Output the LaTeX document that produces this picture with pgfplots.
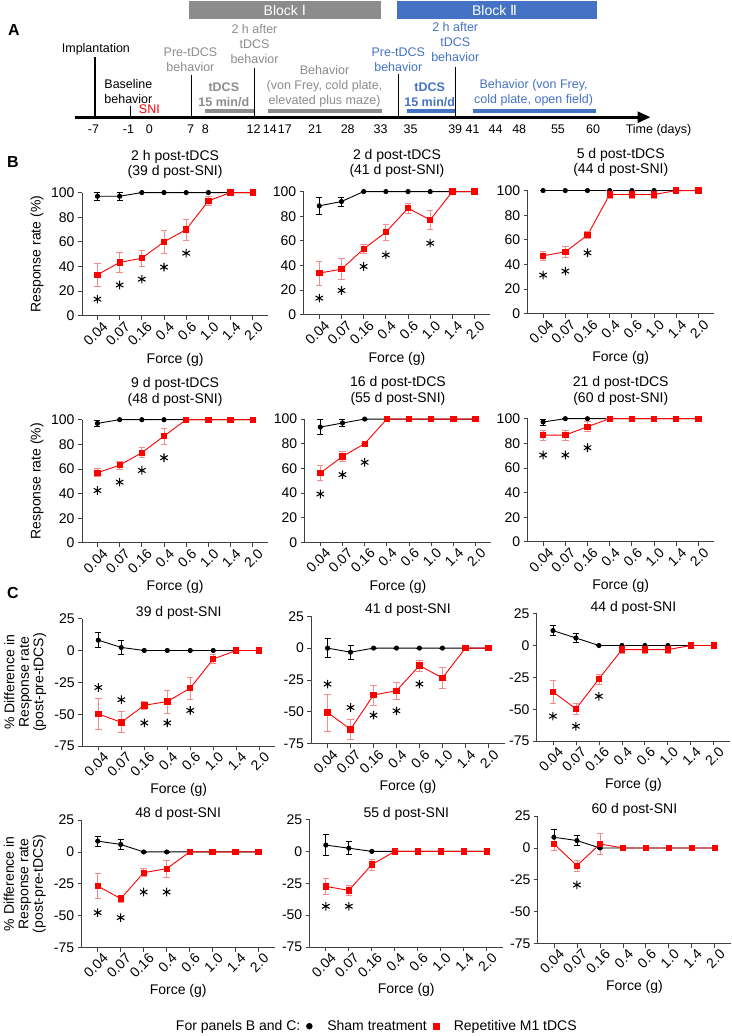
\documentclass[border=0pt]{standalone}
\usepackage{pgfplots}
\pgfplotsset{compat=1.18}
\usepackage{pgfplotstable}
\usepackage{fontspec}
\setmainfont{Liberation Sans}
\newfontfamily\djv{DejaVu Sans}
\usetikzlibrary{arrows.meta}
\definecolor{tgray}{HTML}{8C8C8C}
\definecolor{tblue}{HTML}{4472C4}
\definecolor{mred}{HTML}{FF0000}
\definecolor{ered}{HTML}{F58A8A}
\newcommand\fs{\fontsize{14}{16}\selectfont}
\newcommand\fa{\fontsize{12.5}{15}\selectfont}

\pgfplotstableread{
x s se r re
0 97 3 33.3 9.5
1 97 3 43.3 7.8
2 100 0 46.7 6.7
3 100 0 60 9
4 100 0 70 8.4
5 100 0 93.3 4
6 100 0 100 0
7 100 0 100 0
}\tBa
\pgfplotstableread{
x s se r re
0 88.4 6.5 33.8 9.7
1 91.9 3.8 37 8.4
2 100 0 53.5 3.9
3 100 0 67 6.6
4 100 0 86.5 4
5 100 0 77 8
6 100 0 100 0
7 100 0 100 0
}\tBb
\pgfplotstableread{
x s se r re
0 100 0 47 4
1 100 0 50.3 4.6
2 100 0 63.8 2.7
3 100 0 96.8 3
4 100 0 96.8 3
5 100 0 96.8 3
6 100 0 100 0
7 100 0 100 0
}\tBc
\pgfplotstableread{
x s se r re
0 97 2.5 56.9 3.3
1 100 0 63.1 3.4
2 100 0 73.2 4
3 100 0 86.7 6.5
4 100 0 100 0
5 100 0 100 0
6 100 0 100 0
7 100 0 100 0
}\tBd
\pgfplotstableread{
x s se r re
0 93.5 6 56.2 6
1 96.8 3 69.7 4
2 100 0 80 0
3 100 0 100 0
4 100 0 100 0
5 100 0 100 0
6 100 0 100 0
7 100 0 100 0
}\tBe
\pgfplotstableread{
x s se r re
0 97.3 2.5 86.7 4
1 100 0 86.7 4
2 100 0 93.5 4
3 100 0 100 0
4 100 0 100 0
5 100 0 100 0
6 100 0 100 0
7 100 0 100 0
}\tBf
\pgfplotstableread{
x s se r re
0 8.1 6 -49.8 12.4
1 2.4 5.2 -56.3 8.2
2 0 0 -43 3.2
3 0 0 -40 9
4 0 0 -29.5 8.5
5 0 0 -6.7 3.5
6 0 0 0 0
7 0 0 0 0
}\tCa
\pgfplotstableread{
x s se r re
0 0 7.5 -50.5 14.5
1 -3.2 5.3 -63.7 8.2
2 0 0 -36.8 7.9
3 0 0 -33.4 6.6
4 0 0 -13.7 4.2
5 0 0 -23.4 8.3
6 0 0 0 0
7 0 0 0 0
}\tCb
\pgfplotstableread{
x s se r re
0 11.7 4 -36.4 9.3
1 5.9 3.4 -49.7 4.3
2 0 0 -26.2 3.9
3 0 0 -3.2 3
4 0 0 -3.2 3
5 0 0 -3.2 3
6 0 0 0 0
7 0 0 0 0
}\tCc
\pgfplotstableread{
x s se r re
0 8.5 4 -26.7 9.7
1 5.9 3.7 -36.6 2.6
2 0 0 -16.3 3.1
3 0 0 -13.1 6.5
4 0 0 0 0
5 0 0 0 0
6 0 0 0 0
7 0 0 0 0
}\tCd
\pgfplotstableread{
x s se r re
0 4.9 8.4 -27.5 6.5
1 2.5 5 -30.6 3.9
2 0 0 -10.4 4.4
3 0 0 0 0
4 0 0 0 0
5 0 0 0 0
6 0 0 0 0
7 0 0 0 0
}\tCe
\pgfplotstableread{
x s se r re
0 8.4 5.9 3.1 5.2
1 5.8 3.7 -13.9 4.3
2 0 0 3.1 8.2
3 0 0 0 0
4 0 0 0 0
5 0 0 0 0
6 0 0 0 0
7 0 0 0 0
}\tCf

\pgfplotsset{
  every axis/.append style={font=\fs},
  pan/.style={scale only axis, axis lines=left,
    axis line style={-, black!75, line width=0.8pt},
    xmin=-0.7, xmax=7.7, xtick={0,...,7},
    xticklabels={0.04,0.07,0.16,0.4,0.6,1.0,1.4,2.0},
    xticklabel style={rotate=45, anchor=north east, font=\fs, inner sep=0.5pt,
      xshift=3pt, yshift=-3pt},
    yticklabel style={font=\fs},
    tick align=outside, major tick length=4pt,
    every tick/.style={black!75, line width=0.8pt},
    clip=false, xlabel={Force (g)},
    title style={font=\fs, align=center, anchor=center},
    /pgf/number format/assume math mode=true},
  bpan/.style={pan, width=186.5pt, height=123.3pt, ymin=0, ymax=100,
    ytick={0,20,40,60,80,100},
    xlabel style={at={(axis description cs:0.5,-0.36)}, anchor=center, font=\fs},
    title style={at={(0.5,1.18)}},
    ylabel style={at={(axis description cs:-0.241,0.5)}, anchor=center, font=\fs}},
  cpan/.style={pan, width=193.2pt, height=127.6pt, ymin=-75, ymax=25,
    ytick={-75,-50,-25,0,25},
    xlabel style={at={(axis description cs:0.5,-0.34)}, anchor=center, font=\fs},
    title style={at={(0.5,1.0)}},
    ylabel style={at={(axis description cs:-0.295,0.5)}, anchor=center,
      font=\fontsize{14}{14.5}\selectfont, align=center}},
  sham/.style={black, line width=0.9pt, mark=*, mark size=2.1pt, mark options={solid},
    error bars/.cd, y dir=both, y explicit,
    error bar style={black, line width=0.7pt},
    error mark options={rotate=90, mark size=3pt, black, line width=0.7pt}},
  rtd/.style={mred, line width=0.9pt, mark=square*, mark size=2.7pt,
    mark options={solid, fill=mred},
    error bars/.cd, y dir=both, y explicit,
    error bar style={ered, line width=0.7pt},
    error mark options={rotate=90, mark size=3.2pt, ered, line width=0.7pt}},
  star/.style={only marks, mark=asterisk, mark size=4.3pt, black,
    mark options={line width=1.05pt}},
}
\newcommand\panelplots[2]{%
  \addplot[sham] table[x=x,y=s,y error=se]{#1};
  \addplot[rtd] table[x=x,y=r,y error=re]{#1};
  \addplot[star] coordinates {#2};
}

\begin{document}
\begin{tikzpicture}
% ---------- overlay axis in pixel coordinates: panel A, letters, legend
\begin{axis}[at={(0pt,0pt)}, anchor=north west, scale only axis,
  width=730pt, height=1036pt, xmin=0, xmax=730, ymin=-1036, ymax=0,
  hide axis, clip=false,
  legend style={at={(0.507,0.0087)}, anchor=center, draw=none, fill=none,
    font=\fs, legend columns=-1,
    /tikz/every even column/.append style={column sep=4pt},
    /tikz/every odd column/.append style={column sep=13pt}}]
\path (axis cs:0,0) -- (axis cs:730,-1036);
\addlegendimage{empty legend}\addlegendentry{For panels B and C:}
\addlegendimage{only marks, mark=*, mark size=3pt, black}\addlegendentry{Sham treatment}
\addlegendimage{only marks, mark=square*, mark size=3pt, mred}\addlegendentry{Repetitive M1 tDCS}
% block bars
\fill[tgray] (axis cs:189,-1) rectangle (axis cs:381,-19);
\fill[tblue] (axis cs:397,-1) rectangle (axis cs:597,-19);
\node[text=white, font=\fs] at (axis cs:285,-10) {Block {\djv Ⅰ}};
\node[text=white, font=\fs] at (axis cs:495,-10) {Block {\djv Ⅱ}};
% panel letters
\node[font=\fontsize{16}{18}\selectfont\bfseries] at (axis cs:14,-30) {A};
\node[font=\fontsize{16}{18}\selectfont\bfseries] at (axis cs:13,-162) {B};
\node[font=\fontsize{16}{18}\selectfont\bfseries] at (axis cs:13,-593) {C};
% timeline
\fill[tgray] (axis cs:205.6,-109.3) rectangle (axis cs:254.7,-113.3);
\fill[tgray] (axis cs:267.8,-109.3) rectangle (axis cs:382.2,-113.3);
\fill[tblue] (axis cs:407.5,-109.3) rectangle (axis cs:455.6,-113.3);
\fill[tblue] (axis cs:473,-109.3) rectangle (axis cs:596,-113.3);
\draw[line width=1.2pt] (axis cs:95,-57) -- (axis cs:95,-117);
\draw[line width=1.2pt] (axis cs:131,-106) -- (axis cs:131,-117);
\draw[line width=1.2pt] (axis cs:191.6,-75) -- (axis cs:191.6,-117);
\draw[line width=1.2pt] (axis cs:254.7,-68) -- (axis cs:254.7,-117);
\draw[line width=1.2pt] (axis cs:398.6,-74) -- (axis cs:398.6,-117);
\draw[line width=1.2pt] (axis cs:455.6,-67) -- (axis cs:455.6,-117);
\draw[line width=2.8pt, -{Triangle[length=13pt, width=11pt]}] (axis cs:75,-117.3) -- (axis cs:651,-117.3);
\node[font=\fa] at (axis cs:96,-49) {Implantation};
\node[font=\fa, align=center] at (axis cs:128.5,-91.5) {Baseline\\behavior};
\node[font=\fa, text=mred] at (axis cs:149.5,-109) {SNI};
\node[font=\fa, text=tgray, align=center] at (axis cs:190.6,-59.5) {Pre-tDCS\\behavior};
\node[font=\fa\bfseries, text=tgray, align=center] at (axis cs:224,-95) {tDCS\\15 min/d};
\node[font=\fa, text=tgray, align=center] at (axis cs:254.7,-44) {2 h after\\tDCS\\behavior};
\node[font=\fa, text=tgray, align=center] at (axis cs:324.8,-86) {Behavior\\(von Frey, cold plate,\\elevated plus maze)};
\node[font=\fa, text=tblue, align=center] at (axis cs:398.6,-59.5) {Pre-tDCS\\behavior};
\node[font=\fa\bfseries, text=tblue, align=center] at (axis cs:430,-95) {tDCS\\15 min/d};
\node[font=\fa, text=tblue, align=center] at (axis cs:455.6,-42) {2 h after\\tDCS\\behavior};
\node[font=\fa, text=tblue, align=center] at (axis cs:534,-93) {Behavior (von Frey,\\cold plate, open field)};
\node[font=\fa] at (axis cs:93.5,-129) {-7};
\node[font=\fa] at (axis cs:128.5,-129) {-1};
\node[font=\fa] at (axis cs:149.5,-129) {0};
\node[font=\fa] at (axis cs:190.7,-129) {7};
\node[font=\fa] at (axis cs:205.6,-129) {8};
\node[font=\fa] at (axis cs:253.7,-129) {12};
\node[font=\fa] at (axis cs:270,-129) {14};
\node[font=\fa] at (axis cs:285,-129) {17};
\node[font=\fa] at (axis cs:315.4,-129) {21};
\node[font=\fa] at (axis cs:348,-129) {28};
\node[font=\fa] at (axis cs:380.8,-129) {33};
\node[font=\fa] at (axis cs:411,-129) {35};
\node[font=\fa] at (axis cs:455.6,-129) {39};
\node[font=\fa] at (axis cs:473,-129) {41};
\node[font=\fa] at (axis cs:496,-129) {44};
\node[font=\fa] at (axis cs:519.6,-129) {48};
\node[font=\fa] at (axis cs:558.4,-129) {55};
\node[font=\fa] at (axis cs:593.5,-129) {60};
\node[font=\fa] at (axis cs:659,-130) {Time (days)};
\end{axis}

% ---------- Panel B
\begin{axis}[bpan, at={(82pt,-316pt)}, anchor=south west,
  title={2 h post-tDCS\\(39 d post-SNI)}, ylabel={Response rate (\%)}]
\panelplots{\tBa}{(0,13.5) (1,25) (2,29.7) (3,39.5) (4,50.8)}
\end{axis}
\begin{axis}[bpan, at={(304pt,-315pt)}, anchor=south west,
  title={2 d post-tDCS\\(41 d post-SNI)}]
\panelplots{\tBb}{(0,13.5) (1,19.7) (2,39.2) (3,48.6) (5,58.1)}
\end{axis}
\begin{axis}[bpan, at={(528pt,-314pt)}, anchor=south west,
  title={5 d post-tDCS\\(44 d post-SNI)}]
\panelplots{\tBc}{(0,31.4) (1,34.6) (2,49.5)}
\end{axis}
\begin{axis}[bpan, at={(82pt,-543.3pt)}, anchor=south west,
  title={9 d post-tDCS\\(48 d post-SNI)}, ylabel={Response rate (\%)}]
\panelplots{\tBd}{(0,42.5) (1,49.3) (2,58.8) (3,69.1)}
\end{axis}
\begin{axis}[bpan, at={(305pt,-542.7pt)}, anchor=south west,
  title={16 d post-tDCS\\(55 d post-SNI)}]
\panelplots{\tBe}{(0,39.2) (1,54.9) (2,64.9)}
\end{axis}
\begin{axis}[bpan, at={(528pt,-542.3pt)}, anchor=south west,
  title={21 d post-tDCS\\(60 d post-SNI)}]
\panelplots{\tBf}{(0,70.5) (1,70.5) (2,76.4)}
\end{axis}

% ---------- Panel C
\begin{axis}[cpan, at={(82.3pt,-746.7pt)}, anchor=south west,
  title={39 d post-SNI}, ylabel={\% Difference in\\Response rate\\(post-pre-tDCS)}]
\panelplots{\tCa}{(0,-29) (1,-38.6) (2,-56.8) (3,-56.8) (4,-47)}
\end{axis}
\begin{axis}[cpan, at={(311.7pt,-744.3pt)}, anchor=south west,
  title={41 d post-SNI}]
\panelplots{\tCb}{(0,-28.2) (1,-46.6) (2,-52.6) (3,-49.2) (4,-28.2)}
\end{axis}
\begin{axis}[cpan, at={(537.3pt,-741.7pt)}, anchor=south west,
  title={44 d post-SNI}]
\panelplots{\tCc}{(0,-55.4) (1,-63.3) (2,-39.8)}
\end{axis}
\begin{axis}[cpan, at={(81.7pt,-948.3pt)}, anchor=south west,
  title={48 d post-SNI}, ylabel={\% Difference in\\Response rate\\(post-pre-tDCS)}]
\panelplots{\tCd}{(0,-47.6) (1,-51.5) (2,-31.4) (3,-31.4)}
\end{axis}
\begin{axis}[cpan, at={(310pt,-947.7pt)}, anchor=south west,
  title={55 d post-SNI}]
\panelplots{\tCe}{(0,-43.1) (1,-43.1)}
\end{axis}
\begin{axis}[cpan, at={(538.3pt,-944.3pt)}, anchor=south west,
  title={60 d post-SNI}]
\panelplots{\tCf}{(1,-29)}
\end{axis}
\end{tikzpicture}
\end{document}
